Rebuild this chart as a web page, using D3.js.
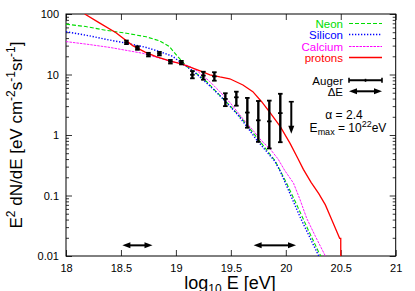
<!DOCTYPE html>
<head>
  <title>UHECR spectrum</title>
  <style>
    body { margin: 0; background: #fff; }
    text { font-family: "Liberation Sans", Arial, sans-serif; }
  </style>
</head>
<body>
<script src="https://cdn.jsdelivr.net/npm/d3@7"></script>
<script>
// curves (log10 E, E^2 dN/dE)
var neonX = [18.0, 18.18, 18.36, 18.55, 18.73, 18.85, 18.94, 19.02, 19.1, 19.19, 19.28, 19.4, 19.5, 19.6, 19.7, 19.8, 19.9, 20.0, 20.1, 20.2, 20.3, 20.32];
var neonY = [68, 62, 54, 48, 42, 36, 29, 19.5, 13.5, 10.3, 7.6, 4.5, 2.95, 1.85, 1.1, 0.65, 0.38, 0.17, 0.07, 0.028, 0.0115, 0.01];

var siliconX = [18.0, 18.2, 18.4, 18.55, 18.73, 18.85, 18.97, 19.05, 19.16, 19.25, 19.35, 19.45, 19.55, 19.65, 19.73, 19.83, 19.9, 19.95, 20.04, 20.13, 20.22, 20.3];
var siliconY = [51, 44, 37, 33, 28, 24, 20, 15.5, 11.3, 8.1, 5.5, 3.6, 2.3, 1.35, 0.85, 0.52, 0.37, 0.25, 0.105, 0.044, 0.02, 0.01];

var calciumX = [18.0, 18.2, 18.4, 18.7, 18.95, 19.05, 19.13, 19.2, 19.3, 19.4, 19.5, 19.61, 19.7, 19.78, 19.86, 19.93, 19.99, 20.07, 20.13, 20.19, 20.27, 20.36];
var calciumY = [35, 31.5, 28, 22.4, 16.5, 15.3, 13.5, 11.2, 7.9, 5.2, 3.3, 1.85, 1.2, 0.8, 0.58, 0.4, 0.26, 0.16, 0.085, 0.042, 0.021, 0.01];

var protonX = [18.17, 18.3, 18.455, 18.607, 18.72, 18.82, 18.95, 19.05, 19.13, 19.22, 19.31, 19.4, 19.49, 19.61, 19.7, 19.78, 19.86, 19.95, 20.04, 20.11, 20.16, 20.23, 20.3, 20.36, 20.42, 20.49, 20.5, 20.5];
var protonY = [100, 72, 49, 30, 23.5, 19.7, 16.6, 15.0, 13.2, 11.5, 9.9, 9.1, 8.5, 6.7, 5.2, 3.55, 2.3, 1.37, 0.72, 0.41, 0.27, 0.165, 0.107, 0.07, 0.039, 0.0196, 0.0196, 0.01];

// Auger points with error bars
var augerX  = [18.55, 18.65, 18.75, 18.85, 18.95, 19.05, 19.15, 19.25, 19.35, 19.45, 19.55, 19.65, 19.75, 19.85, 19.95];
var augerY  = [34, 27.4, 21.3, 22.1, 16.3, 15.7, 9.9, 9.6, 9.3, 3.95, 4.2, 2.35, 1.75, 1.68, 2.3];
var augerLo = [31.8, 25.6, 19.9, 20.7, 15.2, 14.7, 8.65, 8.2, 7.9, 3.0, 3.05, 1.32, 0.77, 0.6, 0.76];
var augerHi = [36.4, 29.3, 22.8, 23.6, 17.4, 16.8, 11.4, 11.1, 10.9, 4.9, 5.2, 4.1, 3.65, 3.7, 4.8];
// upper limit
var limitX = [20.05], limitY = [3.55], limitTo = [1.05];

// energy resolution arrows
var deltaX = [18.65, 19.9], deltaHalf = [0.137, 0.193], deltaY = [0.015, 0.015];

var xTicks = [18, 18.5, 19, 19.5, 20, 20.5, 21];
var yTicks = [0.01, 0.1, 1, 10, 100];

var series = [
  {name: "Neon", xs: neonX, ys: neonY, color: "#00dd00", dash: "4,2", w: 1.1},
  {name: "Silicon", xs: siliconX, ys: siliconY, color: "#0000ff", dash: "1.3,1.7", w: 1.4},
  {name: "Calcium", xs: calciumX, ys: calciumY, color: "#ff00ff", dash: "2.5,1", w: 0.9},
  {name: "protons", xs: protonX, ys: protonY, color: "#ff0000", dash: null, w: 1.3}
];

var width = 415, height = 291;
var plot = {left: 66, right: 395.7, top: 14, bottom: 256};

var x = d3.scaleLinear().domain([18, 21]).range([plot.left, plot.right]);
var y = d3.scaleLog().domain([0.01, 100]).range([plot.bottom, plot.top]);

var svg = d3.select("body").append("svg")
    .attr("width", width)
    .attr("height", height);

svg.append("rect").attr("width", width).attr("height", height).attr("fill", "#fff");

svg.append("defs").append("clipPath").attr("id", "clip")
  .append("rect")
    .attr("x", plot.left).attr("y", plot.top)
    .attr("width", plot.right - plot.left).attr("height", plot.bottom - plot.top);

// minor y ticks
var minor = [];
yTicks.slice(0, -1).forEach(function(t) {
  for (var k = 2; k <= 9; k++) minor.push(t * k);
});

function styleAxis(g) {
  g.select(".domain").remove();
  g.selectAll("line").attr("stroke", "#000").attr("stroke-width", 0.8);
  g.selectAll("text").attr("font-size", 11).attr("fill", "#000")
    .attr("font-family", "'Liberation Sans', Arial, sans-serif");
}

svg.append("g").attr("transform", "translate(" + plot.left + ",0)")
   .call(d3.axisLeft(y).tickValues(yTicks).tickFormat(d3.format("~g")).tickSize(-6).tickPadding(7))
   .call(styleAxis);
svg.append("g").attr("transform", "translate(" + plot.left + ",0)")
   .call(d3.axisLeft(y).tickValues(minor).tickFormat("").tickSize(-3))
   .call(styleAxis);
svg.append("g").attr("transform", "translate(" + plot.right + ",0)")
   .call(d3.axisRight(y).tickValues(yTicks).tickFormat("").tickSize(-6))
   .call(styleAxis);
svg.append("g").attr("transform", "translate(" + plot.right + ",0)")
   .call(d3.axisRight(y).tickValues(minor).tickFormat("").tickSize(-3))
   .call(styleAxis);
svg.append("g").attr("transform", "translate(0," + plot.bottom + ")")
   .call(d3.axisBottom(x).tickValues(xTicks).tickFormat(d3.format("~g")).tickSize(-6).tickPadding(8))
   .call(styleAxis);
svg.append("g").attr("transform", "translate(0," + plot.top + ")")
   .call(d3.axisTop(x).tickValues(xTicks).tickFormat("").tickSize(-6))
   .call(styleAxis);

svg.append("rect")
   .attr("x", plot.left).attr("y", plot.top)
   .attr("width", plot.right - plot.left).attr("height", plot.bottom - plot.top)
   .attr("fill", "none").attr("stroke", "#000").attr("stroke-width", 1);

// model curves
var line = d3.line().x(function(d) { return x(d[0]); }).y(function(d) { return y(d[1]); });
var curves = svg.append("g").attr("clip-path", "url(#clip)");
series.forEach(function(s) {
  curves.append("path")
    .datum(d3.zip(s.xs, s.ys))
    .attr("d", line)
    .attr("fill", "none")
    .attr("stroke", s.color)
    .attr("stroke-width", s.w)
    .attr("stroke-dasharray", s.dash);
});

// Auger data
var pts = svg.append("g").attr("stroke", "#000");
augerX.forEach(function(v, i) {
  var px = x(v);
  pts.append("line").attr("x1", px).attr("x2", px)
     .attr("y1", y(augerLo[i])).attr("y2", y(augerHi[i])).attr("stroke-width", 2.4);
  [augerLo[i], augerHi[i], augerY[i]].forEach(function(e) {
    pts.append("line").attr("x1", px - 2.3).attr("x2", px + 2.3)
       .attr("y1", y(e)).attr("y2", y(e)).attr("stroke-width", 1.8);
  });
});

function arrowHead(g, tx, ty, dx, dy) {
  // triangle with tip at (tx,ty), pointing along (dx,dy)
  var L = 8, Wd = 3;
  var bx = tx - dx * L, by = ty - dy * L;
  g.append("path")
   .attr("d", "M" + tx + "," + ty + "L" + (bx - dy * Wd) + "," + (by + dx * Wd) +
              "L" + (bx + dy * Wd) + "," + (by - dx * Wd) + "Z")
   .attr("fill", "#000").attr("stroke", "none");
}

limitX.forEach(function(v, i) {
  var px = x(v), y0 = y(limitY[i]), y1 = y(limitTo[i]);
  pts.append("line").attr("x1", px).attr("x2", px).attr("y1", y0).attr("y2", y1 - 6).attr("stroke-width", 2);
  pts.append("line").attr("x1", px - 2.5).attr("x2", px + 2.5).attr("y1", y0).attr("y2", y0).attr("stroke-width", 1.6);
  arrowHead(svg, px, y1, 0, 1);
});

function doubleArrow(g, x0, x1, yy) {
  g.append("line").attr("x1", x0 + 6).attr("x2", x1 - 6).attr("y1", yy).attr("y2", yy)
   .attr("stroke", "#000").attr("stroke-width", 2);
  arrowHead(g, x0, yy, -1, 0);
  arrowHead(g, x1, yy, 1, 0);
}

deltaX.forEach(function(c, i) {
  doubleArrow(svg, x(c - deltaHalf[i]), x(c + deltaHalf[i]), y(deltaY[i]));
});

// legend
var key = svg.append("g").attr("font-size", 11.5);
var kx = 343, ks0 = 349, ks1 = 382;
series.forEach(function(s, i) {
  var ky = Math.round(23 + i * 11.4) + 0.5;
  key.append("text").attr("x", kx).attr("y", ky + 4).attr("text-anchor", "end")
     .attr("fill", s.color).text(s.name);
  key.append("line").attr("x1", ks0).attr("x2", ks1).attr("y1", ky).attr("y2", ky)
     .attr("stroke", s.color).attr("stroke-width", Math.max(s.w, 1.2)).attr("stroke-dasharray", s.dash);
});
key.append("text").attr("x", kx).attr("y", 84.5).attr("text-anchor", "end").attr("fill", "#000").text("Auger");
key.append("line").attr("x1", ks0).attr("x2", ks1).attr("y1", 80.3).attr("y2", 80.3)
   .attr("stroke", "#000").attr("stroke-width", 2);
[ks0, ks1].forEach(function(e) {
  key.append("line").attr("x1", e).attr("x2", e).attr("y1", 77.8).attr("y2", 82.8)
     .attr("stroke", "#000").attr("stroke-width", 1.6);
});
key.append("line").attr("x1", (ks0 + ks1) / 2).attr("x2", (ks0 + ks1) / 2).attr("y1", 78.8).attr("y2", 81.8)
   .attr("stroke", "#000").attr("stroke-width", 1.6);
key.append("text").attr("x", kx).attr("y", 95.5).attr("text-anchor", "end").attr("fill", "#000").text("\u0394E");
doubleArrow(key, ks0, ks1, 91.3);

// parameters
svg.append("text").attr("x", 344).attr("y", 119).attr("text-anchor", "middle")
   .attr("font-size", 12).text("\u03b1 = 2.4");
var em = svg.append("text").attr("x", 348).attr("y", 131.5).attr("text-anchor", "middle").attr("font-size", 12);
em.append("tspan").text("E");
em.append("tspan").attr("font-size", 9).attr("dy", 3).text("max");
em.append("tspan").attr("dy", -3).text(" = 10");
em.append("tspan").attr("font-size", 9).attr("dy", -4.5).text("22");
em.append("tspan").attr("dy", 4.5).text("eV");

// axis labels
var yl = svg.append("text")
   .attr("transform", "translate(22,135) rotate(-90)")
   .attr("text-anchor", "middle").attr("font-size", 17);
yl.append("tspan").text("E");
yl.append("tspan").attr("font-size", 12).attr("dy", -7).text("2");
yl.append("tspan").attr("dy", 7).text(" dN/dE [eV cm");
yl.append("tspan").attr("font-size", 12).attr("dy", -7).text("-2");
yl.append("tspan").attr("dy", 7).text("s");
yl.append("tspan").attr("font-size", 12).attr("dy", -7).text("-1");
yl.append("tspan").attr("dy", 7).text("sr");
yl.append("tspan").attr("font-size", 12).attr("dy", -7).text("-1");
yl.append("tspan").attr("dy", 7).text("]");

var xl = svg.append("text").attr("x", 230).attr("y", 289)
   .attr("text-anchor", "middle").attr("font-size", 18);
xl.append("tspan").text("log");
xl.append("tspan").attr("font-size", 12).attr("dy", 4).text("10");
xl.append("tspan").attr("dy", -4).text(" E [eV]");
</script>
</body>
